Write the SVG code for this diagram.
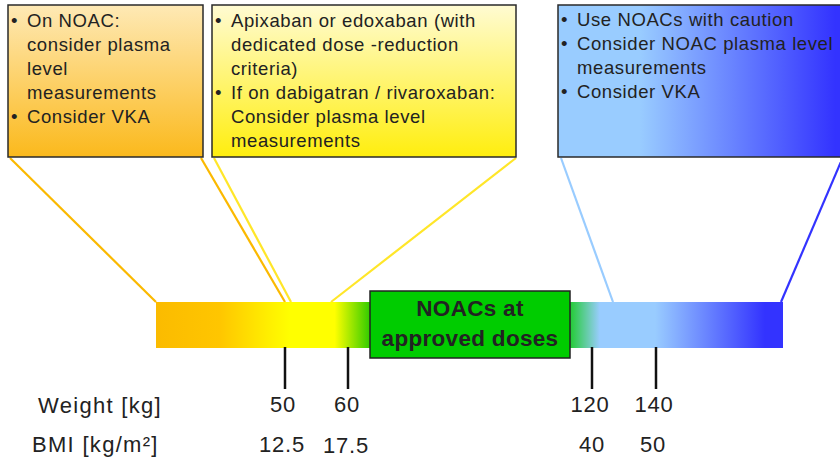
<svg xmlns="http://www.w3.org/2000/svg" width="840" height="457" viewBox="0 0 840 457">
<defs>
<linearGradient id="gOrange" x1="0" y1="0" x2="0" y2="1">
<stop offset="0" stop-color="#fee9b5"/>
<stop offset="1" stop-color="#fbb91c"/>
</linearGradient>
<linearGradient id="gYellow" x1="0" y1="0" x2="0" y2="1">
<stop offset="0" stop-color="#fffbd2"/>
<stop offset="1" stop-color="#ffee0e"/>
</linearGradient>
<linearGradient id="gBlue" x1="0" y1="0" x2="1" y2="0">
<stop offset="0" stop-color="#99ccff"/>
<stop offset="0.28" stop-color="#99ccff"/>
<stop offset="0.95" stop-color="#3333ff"/>
<stop offset="1" stop-color="#3333ff"/>
</linearGradient>
<linearGradient id="gBar" gradientUnits="userSpaceOnUse" x1="156" y1="0" x2="783" y2="0">
<stop offset="0" stop-color="#fbbb00"/>
<stop offset="0.102" stop-color="#ffc600"/>
<stop offset="0.182" stop-color="#fff000"/>
<stop offset="0.214" stop-color="#ffff00"/>
<stop offset="0.285" stop-color="#ffff00"/>
<stop offset="0.341" stop-color="#33cc00"/>
<stop offset="0.66" stop-color="#22cc33"/>
<stop offset="0.708" stop-color="#99ccff"/>
<stop offset="0.796" stop-color="#99ccff"/>
<stop offset="0.971" stop-color="#3333ff"/>
<stop offset="1" stop-color="#3333ff"/>
</linearGradient>
</defs>
<style>
.box{stroke:#2a2a2a;stroke-width:1.5}
.bt{font-family:"Liberation Sans",Arial,sans-serif;font-size:18.5px;letter-spacing:0.6px;fill:#222}
.lbl{font-family:"Liberation Sans",Arial,sans-serif;font-size:22px;letter-spacing:1.3px;fill:#222}
.num{font-family:"Liberation Sans",Arial,sans-serif;font-size:22px;letter-spacing:0.8px;fill:#222;text-anchor:middle}
.hd{font-family:"Liberation Sans",Arial,sans-serif;font-size:22.5px;letter-spacing:0.3px;font-weight:bold;fill:#222;text-anchor:middle}
.con{fill:none;stroke-width:2.2}
.tick{stroke:#111;stroke-width:2.5}
</style>

<g id="connectors">
<line class="con" x1="10" y1="158" x2="156" y2="302" stroke="#fbb900"/>
<line class="con" x1="201" y1="158" x2="285" y2="302" stroke="#fbb900"/>
<line class="con" x1="214" y1="158" x2="291" y2="302" stroke="#ffe629"/>
<line class="con" x1="516" y1="158" x2="331" y2="302" stroke="#ffe629"/>
<line class="con" x1="561" y1="158" x2="613" y2="302" stroke="#99ccff"/>
<line class="con" x1="843" y1="157" x2="781" y2="302" stroke="#3333ff"/>
</g>

<g id="bar">
<rect x="156" y="302" width="627" height="46" fill="url(#gBar)"/>
</g>

<g id="ticks">
<line class="tick" x1="285" y1="347" x2="285" y2="389"/>
<line class="tick" x1="348" y1="347" x2="348" y2="389"/>
<line class="tick" x1="592" y1="347" x2="592" y2="389"/>
<line class="tick" x1="656" y1="347" x2="656" y2="389"/>
</g>

<g id="box-low">
<rect class="box" x="8" y="5" width="195" height="152" fill="url(#gOrange)"/>
<text class="bt" x="11" y="27">•</text>
<text class="bt" x="27" y="27">On NOAC:</text>
<text class="bt" x="27" y="51">consider plasma</text>
<text class="bt" x="27" y="75">level</text>
<text class="bt" x="27" y="99">measurements</text>
<text class="bt" x="11" y="123">•</text>
<text class="bt" x="27" y="123">Consider VKA</text>
</g>

<g id="box-midlow">
<rect class="box" x="212" y="5" width="304" height="152" fill="url(#gYellow)"/>
<text class="bt" x="215" y="27">•</text>
<text class="bt" x="231" y="27">Apixaban or edoxaban (with</text>
<text class="bt" x="231" y="51">dedicated dose -reduction</text>
<text class="bt" x="231" y="75">criteria)</text>
<text class="bt" x="215" y="99">•</text>
<text class="bt" x="231" y="99">If on dabigatran / rivaroxaban:</text>
<text class="bt" x="231" y="123">Consider plasma level</text>
<text class="bt" x="231" y="147">measurements</text>
</g>

<g id="box-high">
<rect class="box" x="558" y="5" width="292" height="152" fill="url(#gBlue)"/>
<text class="bt" x="561" y="26">•</text>
<text class="bt" x="577" y="26">Use NOACs with caution</text>
<text class="bt" x="561" y="50">•</text>
<text class="bt" x="577" y="50">Consider NOAC plasma level</text>
<text class="bt" x="577" y="74">measurements</text>
<text class="bt" x="561" y="98">•</text>
<text class="bt" x="577" y="98">Consider VKA</text>
</g>

<g id="box-approved">
<rect x="370" y="291" width="200" height="67" fill="#00cc00" stroke="#222" stroke-width="1.5"/>
<text class="hd" x="470" y="316">NOACs at</text>
<text class="hd" x="470" y="346">approved doses</text>
</g>

<g id="labels">
<text class="lbl" x="38" y="413">Weight [kg]</text>
<text class="lbl" x="32" y="452">BMI [kg/m²]</text>
<text class="num" x="283" y="412">50</text>
<text class="num" x="347" y="412">60</text>
<text class="num" x="590" y="412">120</text>
<text class="num" x="654" y="412">140</text>
<text class="num" x="282" y="452">12.5</text>
<text class="num" x="346" y="453">17.5</text>
<text class="num" x="592" y="452">40</text>
<text class="num" x="653" y="452">50</text>
</g>
</svg>
